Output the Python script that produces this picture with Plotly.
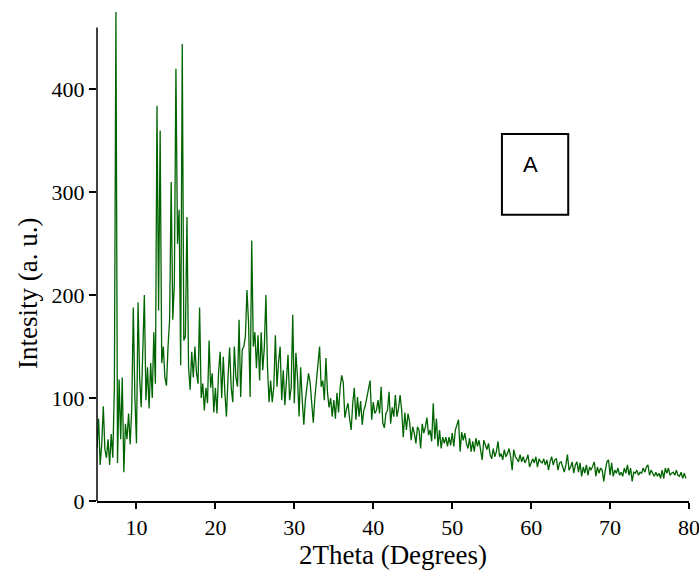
import numpy as np
import plotly.graph_objects as go

STEP = 0.2  # 2theta sampling step (degrees)

# Intensity segments (a.u.)
seg1_start = 5.0
seg1 = [52, 80, 35, 55, 92, 50, 42, 60, 35, 65,
        42, 110, 475, 37, 118, 60, 120, 28, 75, 60,
        85, 55, 90, 188, 100, 56, 193, 120, 91, 140,
        200, 98, 130, 90, 134, 100, 164, 114, 384, 185,
        360, 134, 150, 120, 112, 150, 176, 310, 176, 211,
        420, 250, 283, 132, 444, 156, 160, 276, 130, 108,
        145, 120, 150, 125, 114, 188, 100, 114, 88, 110,
        95, 156, 110, 124, 86]

seg2_start = 20.0
seg2 = [110, 85, 125, 145, 100, 140, 105, 82, 120, 149,
        110, 96, 150, 120, 111, 176, 101, 147, 150, 160,
        205, 173, 101, 253, 150, 164, 129, 161, 117, 164,
        127, 150, 200, 130, 96, 117, 96, 111, 161, 111,
        135, 150, 98, 127, 93, 120, 142, 98, 110, 181,
        95, 144, 120, 82, 130, 98, 74, 98, 110, 124,
        115, 91, 76, 100, 117, 140, 150, 111, 117, 98,
        139, 105, 91]

seg3_start = 34.6
seg3 = [100, 82, 98, 80, 105, 86, 110, 122, 115, 81,
        89, 95, 80, 69, 95, 110, 79, 101, 82, 97,
        74, 88, 93, 101, 106, 117, 79, 96, 85, 88,
        98, 85, 111, 76, 71, 85, 88, 106, 75, 91,
        82, 103, 82, 90, 103, 88, 62, 86, 69, 85,
        77, 59, 72, 66, 56, 72, 69, 51, 75, 66,
        72, 81, 64, 69, 58, 95, 60, 80, 53, 69,
        51, 62, 56, 62, 53, 62, 54, 66, 53, 69,
        74, 79, 48]

seg4_start = 51.2
seg4 = [67, 59, 66, 56, 51, 61, 48, 58, 48, 61,
        53, 59, 48, 40, 59, 54, 50, 56, 45, 41,
        51, 43, 48, 58, 43, 46, 40, 50, 43, 46,
        51, 43, 30, 50, 43, 41, 38, 45, 38, 43,
        37, 40, 45, 33, 38, 41, 37, 43, 33, 41,
        38, 37, 41, 35, 40, 30, 38, 43, 35, 40,
        41, 30, 37, 38, 33, 28, 35, 45, 30, 33,
        38, 27, 35, 38, 28]

seg5_start = 66.2
seg5 = [37, 24, 33, 27, 35, 25, 33, 30, 35, 38,
        24, 33, 27, 32, 30, 19, 30, 38, 40, 25,
        37, 24, 30, 27, 32, 25, 28, 24, 32, 27,
        35, 25, 32, 19, 28, 27, 30, 25, 28, 27,
        32, 28, 33, 35, 25, 30, 27, 24, 28, 24,
        27, 22, 30, 22, 32, 27, 32, 25, 27, 28,
        25, 30, 25, 24, 28, 22, 27, 22]

x_ticks = [10, 20, 30, 40, 50, 60, 70, 80]
y_ticks = [0, 100, 200, 300, 400]
x_title = "2Theta (Degrees)"
y_title = "Intesity (a. u.)"
label = "A"

two_theta = []
intensity = []
for start, vals in [(seg1_start, seg1), (seg2_start, seg2), (seg3_start, seg3),
                    (seg4_start, seg4), (seg5_start, seg5)]:
    two_theta += [round(start + STEP * i, 2) for i in range(len(vals))]
    intensity += vals

fig = go.Figure()
fig.add_trace(go.Scatter(x=two_theta, y=intensity, mode="lines",
                         line=dict(color="#006400", width=1.3),
                         showlegend=False, hoverinfo="x+y"))

serif = "Liberation Serif, Times New Roman, serif"
fig.update_layout(
    width=699, height=571,
    margin=dict(l=97, r=10, t=10, b=70, autoexpand=False),
    paper_bgcolor="white", plot_bgcolor="white",
    xaxis=dict(range=[5, 80], tickvals=x_ticks, ticks="outside", ticklen=6,
               tickwidth=1.5, tickcolor="black", showline=True, linecolor="black",
               linewidth=1.5, showgrid=False, zeroline=False,
               ticklabeloverflow="allow", automargin=False,
               tickfont=dict(family=serif, size=22, color="black"),
               title=dict(text=x_title, font=dict(family=serif, size=27, color="black"),
                          standoff=4)),
    yaxis=dict(range=[0, 477], tickvals=y_ticks, ticks="outside", ticklen=7,
               tickwidth=1.5, tickcolor="black", showline=False,
               showgrid=False, zeroline=False, automargin=False,
               tickfont=dict(family=serif, size=22, color="black")),
)

# y axis title, centred where the reference has it
fig.add_annotation(xref="paper", yref="paper", x=-0.1166, y=0.4236, text=y_title,
                   textangle=-90, showarrow=False, xanchor="center", yanchor="middle",
                   font=dict(family=serif, size=27, color="black"))

# y axis line (stops at 460, as in the reference)
fig.add_shape(type="line", xref="paper", yref="y", x0=0, x1=0, y0=0, y1=460,
              line=dict(color="black", width=1.5))

# label box
fig.add_shape(type="rect", xref="x", yref="y", x0=56.3, x1=64.7, y0=278, y1=356.5,
              line=dict(color="black", width=2), fillcolor="rgba(0,0,0,0)")
fig.add_annotation(x=59.9, y=327, xref="x", yref="y", text=label, showarrow=False,
                   font=dict(family="Liberation Sans, Arial, sans-serif", size=22, color="black"))

fig.write_html("out.html")
